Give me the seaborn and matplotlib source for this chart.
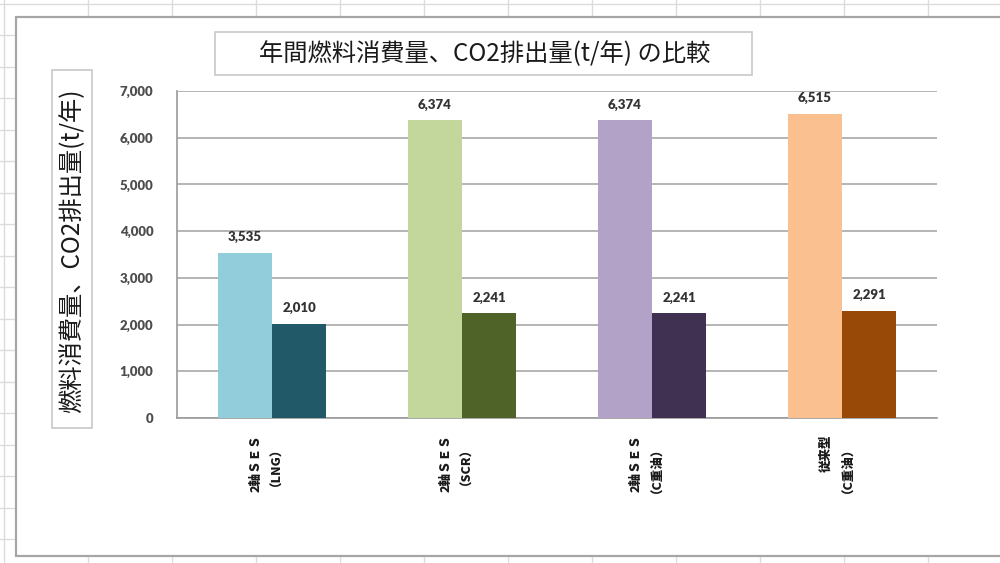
import numpy as np
import pandas as pd
import matplotlib
matplotlib.use("Agg")
import matplotlib.pyplot as plt
from matplotlib.lines import Line2D
from matplotlib.patches import Rectangle
from matplotlib.ticker import FuncFormatter, FixedLocator
import matplotlib.transforms as mtransforms
import seaborn as sns

# --- data -------------------------------------------------------------
categories = ["2軸ＳＥＳ\n（LNG）", "2軸ＳＥＳ\n（SCR）", "2軸ＳＥＳ\n（C重油）", "従来型\n（C重油）"]
series = ["燃料消費量", "CO2排出量"]
fuel = [3535, 6374, 6374, 6515]
co2 = [2010, 2241, 2241, 2291]
y_ticks = [0, 1000, 2000, 3000, 4000, 5000, 6000, 7000]

# per-category colours: light shade for fuel, dark shade for CO2
fuel_colors = ["#92CDDC", "#C3D69B", "#B3A2C7", "#FAC090"]
co2_colors = ["#215968", "#4F6228", "#403152", "#984807"]

title = "年間燃料消費量、CO2排出量(t/年) の比較"
ylabel = "燃料消費量、CO2排出量(t/年)"

df = pd.DataFrame({
    "category": categories * 2,
    "series": [series[0]] * 4 + [series[1]] * 4,
    "value": fuel + co2,
})

# --- style ------------------------------------------------------------
sns.set_theme(style="white")
plt.rcParams["font.family"] = ["Noto Sans CJK JP", "DejaVu Sans"]

W, H = 1000, 563
fig = plt.figure(figsize=(W / 100, H / 100), dpi=100, facecolor="white")


def fx(px):
    return px / W


def fy(py):
    return 1 - py / H


# worksheet cell grid behind the chart object
cell_color = "#DCDCDC"
for x in np.arange(4, W + 1, 84):
    fig.add_artist(Line2D([fx(x), fx(x)], [0, 1], transform=fig.transFigure,
                          color=cell_color, lw=1, zorder=-3))
for y in np.arange(3.5, H + 1, 31.5):
    fig.add_artist(Line2D([0, 1], [fy(y), fy(y)], transform=fig.transFigure,
                          color=cell_color, lw=1, zorder=-3))

# chart area
fig.add_artist(Rectangle((fx(16), fy(556)), fx(1100 - 16), fy(17) - fy(556),
                         transform=fig.transFigure, facecolor="white",
                         edgecolor="#A6A6A6", lw=1.6, zorder=-2))

# title box
fig.add_artist(Rectangle((fx(215), fy(75)), fx(752 - 215), fy(32) - fy(75),
                         transform=fig.transFigure, facecolor="white",
                         edgecolor="#C8C8C8", lw=1.2, zorder=-1))
fig.text(fx(485), fy(54), title, ha="center", va="center",
         fontsize=17.5, color="#1A1A1A")

# y-axis title box
fig.add_artist(Rectangle((fx(52), fy(428)), fx(92 - 52), fy(70) - fy(428),
                         transform=fig.transFigure, facecolor="white",
                         edgecolor="#C8C8C8", lw=1.2, zorder=-1))
fig.text(fx(72), fy(251), ylabel, ha="center", va="center", rotation=90,
         fontsize=17.5, color="#1A1A1A")

# --- plot area --------------------------------------------------------
ax = fig.add_axes([fx(177), fy(418), fx(937 - 177), fy(91) - fy(418)])
ax.set_facecolor("none")

sns.barplot(data=df, x="category", y="value", hue="series", order=categories,
            hue_order=series, width=0.57, gap=0, saturation=1, legend=False,
            ax=ax, zorder=3)

for container, cols, vals in zip(ax.containers, [fuel_colors, co2_colors], [fuel, co2]):
    for patch, c in zip(container.patches, cols):
        patch.set_facecolor(c)
        patch.set_edgecolor("none")
    ax.bar_label(container, labels=[f"{v:,}" for v in vals], padding=7,
                 fontsize=9.5, fontweight="heavy", color="#333333",
                 family=["Lato", "DejaVu Sans"])

ax.set_ylim(0, 7000)
ax.set_xlim(-0.5, len(categories) - 0.5)
ax.yaxis.set_major_locator(FixedLocator(y_ticks))
ax.yaxis.set_major_formatter(FuncFormatter(lambda v, p: f"{int(v):,}"))
ax.grid(axis="y", color="#B4B4B4", lw=1.4, zorder=0)
ax.set_axisbelow(True)
ax.set_xlabel("")
ax.set_ylabel("")

for side in ["top", "right"]:
    ax.spines[side].set_visible(False)
for side in ["left", "bottom"]:
    ax.spines[side].set_color("#9A9A9A")
    ax.spines[side].set_linewidth(1.2)

ax.tick_params(axis="y", which="major", direction="out", length=5, width=1.2,
               color="#9A9A9A", pad=12, labelsize=9.5, labelcolor="#4D4D4D")
for lab in ax.get_yticklabels():
    lab.set_fontweight("heavy")
    lab.set_family(["Lato", "DejaVu Sans"])

# category labels, boundary tick marks on the x axis
ax.set_xticks(range(len(categories)))
ax.set_xticklabels(categories, rotation=90, fontsize=9, fontweight="heavy",
                   va="top", ha="center", multialignment="right", color="#1A1A1A")
ax.set_xticks(np.arange(-0.5, len(categories)), minor=True)
ax.tick_params(axis="x", which="major", length=0, pad=12)
ax.tick_params(axis="x", which="minor", direction="out", length=5, width=1.2,
               color="#9A9A9A")

shift = mtransforms.ScaledTranslation(-9 / 100, 0, fig.dpi_scale_trans)
for lab in ax.get_xticklabels():
    lab.set_transform(lab.get_transform() + shift)

fig.savefig("out.png", dpi=100, facecolor="white")
